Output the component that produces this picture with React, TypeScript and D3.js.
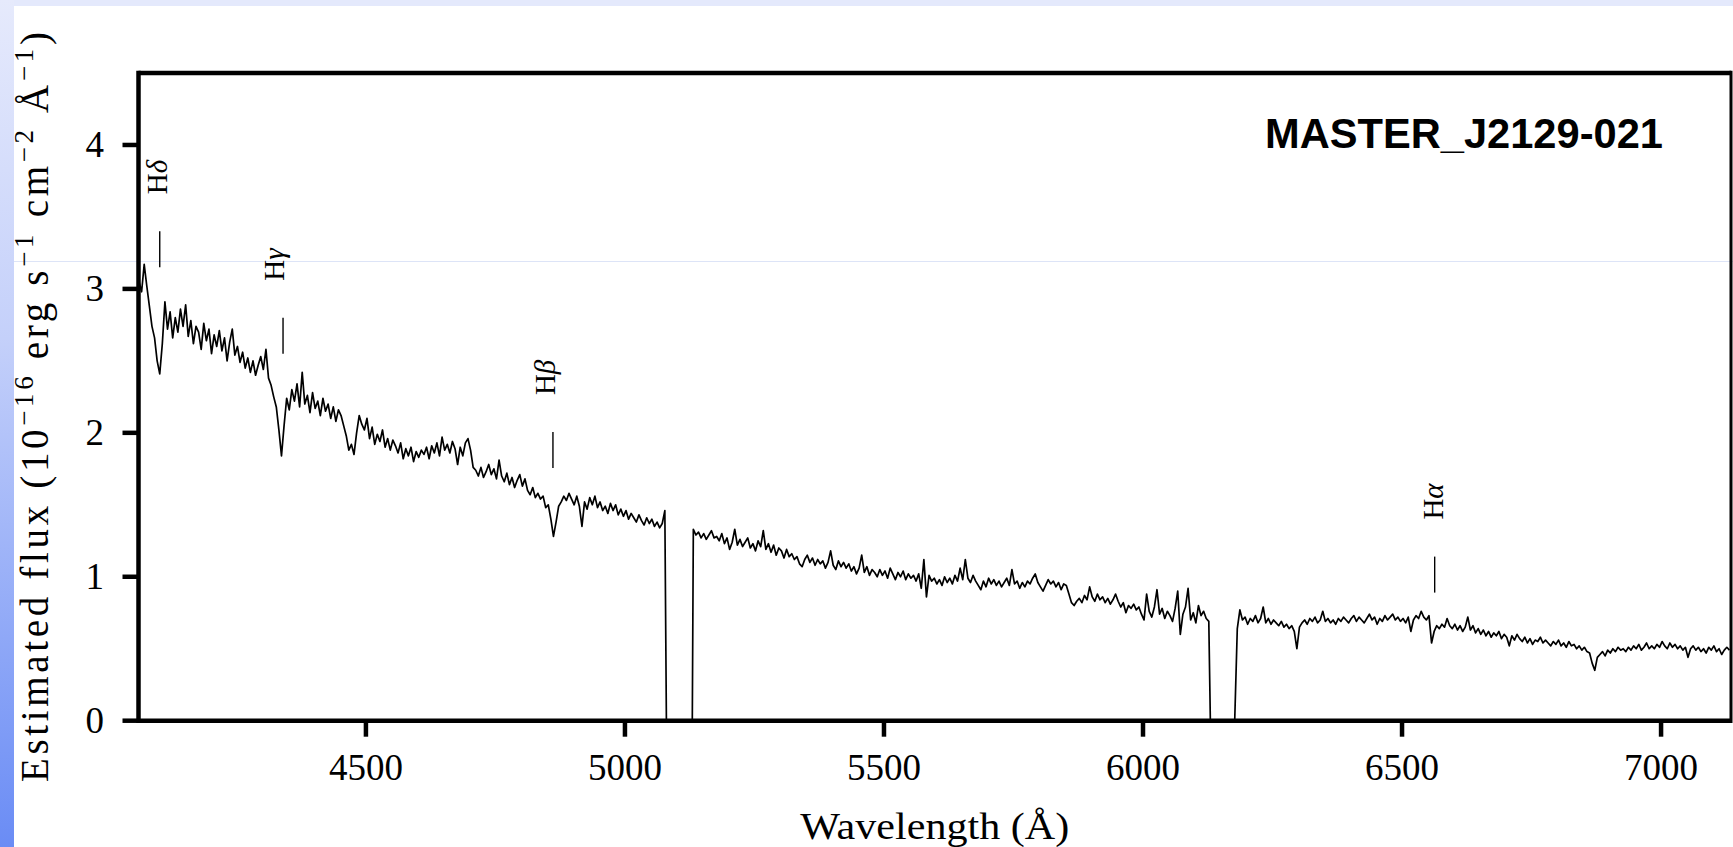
import React from 'react';
import * as d3 from 'd3';

const W = 1733;
const H = 847;

// estimated flux, 10^-16 erg s^-1 cm^-2 A^-1, read every 5 A
const waveStep = 5;

const blueStart = 4062;
const blueFlux = [
  3.05, 2.98, 3.17, 3.02, 2.88, 2.74, 2.66, 2.50, 2.41, 2.62,
  2.91, 2.72, 2.84, 2.66, 2.80, 2.70, 2.86, 2.74, 2.89, 2.67,
  2.78, 2.62, 2.74, 2.70, 2.58, 2.76, 2.64, 2.72, 2.55, 2.68,
  2.60, 2.71, 2.57, 2.66, 2.50, 2.63, 2.72, 2.54, 2.60, 2.49,
  2.56, 2.45, 2.52, 2.42, 2.50, 2.40, 2.47, 2.53, 2.44, 2.58,
  2.38, 2.33, 2.25, 2.18, 2.02, 1.84, 2.05, 2.24, 2.16, 2.30,
  2.22, 2.34, 2.18, 2.42, 2.20, 2.26, 2.14, 2.28, 2.17, 2.22,
  2.12, 2.24, 2.15, 2.20, 2.10, 2.18, 2.08, 2.16, 2.12, 2.05,
  1.98, 1.88, 1.92, 1.85, 2.00, 2.12, 2.06, 2.02, 2.10, 1.96,
  2.04, 1.92, 1.99, 1.94, 2.02, 1.90, 1.96, 1.88, 1.95, 1.91,
  1.86, 1.93, 1.82, 1.89, 1.84, 1.90, 1.80, 1.87, 1.83, 1.88,
  1.85, 1.90, 1.82, 1.91, 1.86, 1.93, 1.84, 1.97, 1.88, 1.92,
  1.86, 1.94, 1.89, 1.78, 1.90, 1.84, 1.93, 1.96, 1.88, 1.76,
  1.74, 1.70, 1.76, 1.69, 1.73, 1.78, 1.71, 1.75, 1.68, 1.81,
  1.70, 1.66, 1.72, 1.64, 1.69, 1.62, 1.67, 1.71, 1.63, 1.68,
  1.60, 1.57, 1.62, 1.55, 1.58, 1.54, 1.56, 1.48, 1.50, 1.40,
  1.28, 1.38, 1.49, 1.52, 1.56, 1.53, 1.58, 1.54, 1.50, 1.56,
  1.49, 1.35, 1.52, 1.47, 1.55, 1.50, 1.56, 1.48, 1.52, 1.46,
  1.49, 1.44, 1.51, 1.46, 1.50, 1.43, 1.47, 1.42, 1.46, 1.40,
  1.44, 1.41, 1.38, 1.43, 1.39, 1.36, 1.41, 1.37, 1.40, 1.35,
  1.38, 1.34, 1.37, 1.46,
];

const greenStart = 5132;
const greenFlux = [
  1.33, 1.29, 1.31, 1.27, 1.30, 1.26, 1.29, 1.32, 1.27, 1.28,
  1.25, 1.30, 1.23, 1.27, 1.19, 1.24, 1.33, 1.22, 1.26, 1.21,
  1.24, 1.27, 1.20, 1.23, 1.18, 1.25, 1.21, 1.32, 1.19, 1.23,
  1.17, 1.22, 1.15, 1.20, 1.18, 1.13, 1.19, 1.14, 1.16, 1.12,
  1.14, 1.09, 1.07, 1.12, 1.15, 1.10, 1.13, 1.08, 1.12, 1.09,
  1.11, 1.06, 1.10, 1.18, 1.08, 1.05, 1.11, 1.07, 1.10, 1.06,
  1.09, 1.04, 1.07, 1.02, 1.06, 1.15, 1.03, 1.07, 1.01, 1.05,
  1.03, 1.00, 1.05, 1.01, 1.04, 0.99, 1.06, 1.02, 0.98, 1.03,
  1.00, 1.04, 0.98, 1.02, 0.99, 1.01, 0.97, 1.02, 0.92, 1.12,
  0.86, 1.01, 0.97, 0.99, 0.95, 0.98, 0.94, 1.00, 0.96, 0.99,
  0.95, 1.01, 0.97, 1.06, 0.98, 1.12, 0.99, 0.96, 1.01, 0.97,
  0.94, 0.91, 0.97, 0.93, 0.99, 0.95, 0.98, 0.94, 0.97, 0.93,
  0.96, 0.99, 0.94, 1.05, 0.95, 0.97, 0.92, 0.96, 0.93, 0.97,
  0.95, 0.99, 1.02, 0.96, 0.93, 0.90, 0.94, 0.98, 0.95, 0.97,
  0.93, 0.96, 0.91, 0.95, 0.94, 0.88, 0.82, 0.80, 0.83, 0.85,
  0.82, 0.87, 0.84, 0.93, 0.86, 0.83, 0.88, 0.84, 0.86, 0.82,
  0.85, 0.81, 0.84, 0.88, 0.83, 0.79, 0.82, 0.75, 0.80, 0.78,
  0.81, 0.77, 0.79, 0.74, 0.70, 0.88, 0.76, 0.72, 0.79, 0.91,
  0.74, 0.78, 0.71, 0.76, 0.73, 0.69, 0.78, 0.90, 0.60, 0.74,
  0.79, 0.92, 0.70, 0.75, 0.68, 0.80, 0.73, 0.76, 0.71, 0.69,
];

const redStart = 6182;
const redFlux = [
  0.64, 0.77, 0.70, 0.72, 0.67, 0.71, 0.69, 0.73, 0.68, 0.71,
  0.79, 0.68, 0.71, 0.67, 0.70, 0.68, 0.66, 0.69, 0.65, 0.67,
  0.64, 0.66, 0.62, 0.50, 0.65, 0.68, 0.70, 0.67, 0.71, 0.69,
  0.72, 0.68, 0.70, 0.76, 0.69, 0.71, 0.68, 0.70, 0.67, 0.71,
  0.69, 0.72, 0.70, 0.68, 0.71, 0.73, 0.69, 0.72, 0.70, 0.68,
  0.71, 0.74, 0.70, 0.72, 0.67, 0.71, 0.69, 0.73, 0.70, 0.72,
  0.74, 0.70, 0.72, 0.69, 0.71, 0.68, 0.72, 0.62, 0.70, 0.73,
  0.71, 0.76, 0.72, 0.70, 0.73, 0.54, 0.62, 0.66, 0.64, 0.67,
  0.65, 0.71, 0.66, 0.64, 0.67, 0.63, 0.66, 0.62, 0.65, 0.72,
  0.63, 0.66, 0.61, 0.64, 0.60, 0.63, 0.59, 0.62, 0.58, 0.61,
  0.59, 0.62, 0.57, 0.60, 0.58, 0.52, 0.59, 0.56, 0.60, 0.57,
  0.55, 0.58, 0.54, 0.57, 0.53, 0.56, 0.55, 0.58, 0.54, 0.56,
  0.54, 0.52, 0.55, 0.53, 0.56, 0.52, 0.54, 0.51, 0.55, 0.52,
  0.53, 0.50, 0.52, 0.49, 0.51, 0.48, 0.47, 0.40, 0.35, 0.44,
  0.46, 0.48, 0.45, 0.49, 0.47, 0.50, 0.48, 0.51, 0.49, 0.50,
  0.48, 0.51, 0.49, 0.52, 0.50, 0.53, 0.49, 0.51, 0.54, 0.50,
  0.52, 0.50, 0.53, 0.51, 0.55, 0.52, 0.50, 0.54, 0.51, 0.53,
  0.50, 0.52, 0.49, 0.51, 0.44, 0.50, 0.52, 0.49, 0.51, 0.48,
  0.50, 0.47, 0.51, 0.49, 0.52, 0.48, 0.50, 0.46, 0.49, 0.51,
  0.49,
];

// chip gaps, flux is zero in between
const gapEdges = [[5080, 5130], [6130, 6177]];

// hydrogen lines: marker sits above the flux level given here
const lineNames = ['δ', 'γ', 'β', 'α'];
const lineWaves = [4102, 4340, 4861, 6563];
const lineTickBase = [3.15, 2.55, 1.755, 0.89];

const xTicks = [4500, 5000, 5500, 6000, 6500, 7000];
const yTicks = [0, 1, 2, 3, 4];

const objectName = 'MASTER_J2129-021';

// label offsets from the marker, px
const labelNudge = [7, 1, 2, 8];

const serif = '"Liberation Serif", "Times New Roman", serif';

export default function App() {
  const left = 138.5;
  const right = 1731;
  const x = d3.scaleLinear().domain([4061, 7135]).range([left, right]);
  const y = d3.scaleLinear().domain([0, 4.5]).range([720.7, 73]);

  const seg = (start: number, flux: number[]) =>
    flux.map((f, i) => [start + i * waveStep, f] as [number, number]);

  const points: [number, number][] = [
    ...seg(blueStart, blueFlux),
    [gapEdges[0][0], 0],
    [gapEdges[0][1], 0],
    ...seg(greenStart, greenFlux),
    [gapEdges[1][0], 0],
    [gapEdges[1][1], 0],
    ...seg(redStart, redFlux),
  ];

  const line = d3
    .line<[number, number]>()
    .x((d) => x(d[0]))
    .y((d) => y(d[1]));

  const y0 = y(0);
  const yTop = y(4.5);

  return (
    <svg
      width={W}
      height={H}
      style={{ position: 'absolute', left: 0, top: 0, display: 'block', background: '#fff' }}
    >
      <defs>
        <linearGradient id="side" x1="0" y1="0" x2="0" y2="1">
          <stop offset="0%" stopColor="#e6eafc" />
          <stop offset="40%" stopColor="#c4d0fa" />
          <stop offset="100%" stopColor="#6a8cf5" />
        </linearGradient>
        <clipPath id="plot">
          <rect x={left} y={yTop} width={right - left} height={y0 - yTop} />
        </clipPath>
      </defs>

      <rect x={0} y={0} width={W} height={6} fill="#e4e9fc" />
      <rect x={0} y={0} width={14} height={H} fill="url(#side)" />
      <line x1={14} x2={W} y1={261.5} y2={261.5} stroke="#dde4f7" strokeWidth={1} />

      <path
        d={line(points) || ''}
        fill="none"
        stroke="#000"
        strokeWidth={1.7}
        strokeLinejoin="round"
        clipPath="url(#plot)"
      />

      {/* line markers */}
      {lineWaves.map((w, i) => {
        const lx = x(w);
        const base = y(lineTickBase[i]);
        const top = base - 36;
        return (
          <g key={w}>
            <line x1={lx} x2={lx} y1={base} y2={top} stroke="#000" strokeWidth={1.4} />
            <text
              transform={`translate(${lx + labelNudge[i]},${top - 37}) rotate(-90)`}
              fontFamily={serif}
              fontSize={29}
            >
              H<tspan fontStyle="italic">{lineNames[i]}</tspan>
            </text>
          </g>
        );
      })}

      {/* frame */}
      <line x1={left} x2={right} y1={yTop} y2={yTop} stroke="#000" strokeWidth={4.5} />
      <line x1={left} x2={right} y1={y0} y2={y0} stroke="#000" strokeWidth={4.5} />
      <line x1={left} x2={left} y1={yTop - 2.25} y2={y0 + 2.25} stroke="#000" strokeWidth={4.5} />
      <line x1={right} x2={right} y1={yTop - 2.25} y2={y0 + 2.25} stroke="#000" strokeWidth={3} />

      {yTicks.map((t) => (
        <g key={t}>
          <line x1={left - 16} x2={left} y1={y(t)} y2={y(t)} stroke="#000" strokeWidth={4.5} />
          <text
            x={104}
            y={y(t) + 12.5}
            textAnchor="end"
            fontFamily={serif}
            fontSize={37}
          >
            {t}
          </text>
        </g>
      ))}

      {xTicks.map((t) => (
        <g key={t}>
          <line x1={x(t)} x2={x(t)} y1={y0} y2={y0 + 16} stroke="#000" strokeWidth={4.5} />
          <text x={x(t)} y={780} textAnchor="middle" fontFamily={serif} fontSize={37}>
            {t}
          </text>
        </g>
      ))}

      <text
        x={(left + right) / 2}
        y={839}
        textAnchor="middle"
        fontFamily={serif}
        fontSize={37}
        textLength={269}
        lengthAdjust="spacingAndGlyphs"
      >
        Wavelength (Å)
      </text>

      <text
        transform="translate(48,407) rotate(-90)"
        textAnchor="middle"
        fontFamily={serif}
        fontSize={39}
        textLength={750}
        lengthAdjust="spacing"
      >
        <tspan>Estimated flux (10</tspan>
        <tspan dy={-15} fontSize={27}>−16</tspan>
        <tspan dy={15}> erg s</tspan>
        <tspan dy={-15} fontSize={27}>−1</tspan>
        <tspan dy={15}> cm</tspan>
        <tspan dy={-15} fontSize={27}>−2</tspan>
        <tspan dy={15}> Å</tspan>
        <tspan dy={-15} fontSize={27}>−1</tspan>
        <tspan dy={15}>)</tspan>
      </text>

      <text
        x={1265}
        y={148}
        fontFamily='"Liberation Sans", Arial, sans-serif'
        fontWeight="bold"
        fontSize={42}
        textLength={398}
        lengthAdjust="spacingAndGlyphs"
      >
        {objectName}
      </text>
    </svg>
  );
}
